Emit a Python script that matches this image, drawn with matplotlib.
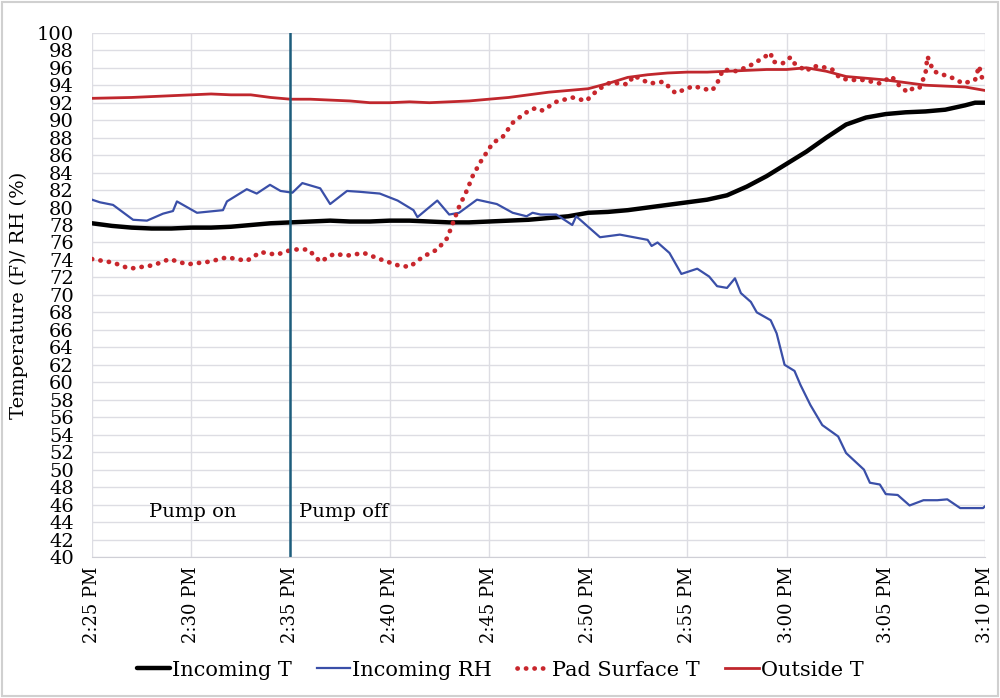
import matplotlib.pyplot as plt
from matplotlib.patches import Rectangle

plt.rcParams['font.family'] = ['DejaVu Serif']

# x values are minutes after 2:25 PM
tick_labels = ['2:25 PM', '2:30 PM', '2:35 PM', '2:40 PM', '2:45 PM',
               '2:50 PM', '2:55 PM', '3:00 PM', '3:05 PM', '3:10 PM']

in_t_min = [0, 1, 2, 3, 4, 5, 6, 7, 8, 9, 10, 11, 12, 13, 14, 15, 16, 17, 18,
            19, 20, 21, 22, 23, 24, 25, 26, 27, 28, 29, 30, 31, 32, 33, 34,
            35, 36, 37, 38, 39, 40, 41, 42, 43, 44, 44.5, 45]
in_t_val = [78.2, 77.9, 77.7, 77.6, 77.6, 77.7, 77.7, 77.8, 78.0, 78.2, 78.3,
            78.4, 78.5, 78.4, 78.4, 78.5, 78.5, 78.4, 78.3, 78.3, 78.4, 78.5,
            78.6, 78.8, 79.0, 79.4, 79.5, 79.7, 80.0, 80.3, 80.6, 80.9, 81.4,
            82.4, 83.6, 85.0, 86.4, 88.0, 89.5, 90.3, 90.7, 90.9, 91.0, 91.2,
            91.7, 92.0, 92.0]

rh_min = [0, 0.4, 1.06, 2.07, 2.77, 3.58, 4.08, 4.28, 5.29, 6.6, 6.8, 7.8,
          8.3, 8.97, 9.5, 10.1, 10.6, 11.5, 12.0, 12.85, 13.5, 14.5, 15.4,
          16.2, 16.4, 17.4, 18.0, 18.5, 19.4, 20.4, 21.2, 21.9, 22.2, 22.6,
          23.4, 24.2, 24.4, 25.6, 26.6, 28.0, 28.2, 28.5, 29.1, 29.7, 30.5,
          31.1, 31.5, 32.0, 32.4, 32.7, 33.2, 33.5, 34.2, 34.5, 34.9, 35.4,
          35.7, 36.2, 36.8, 37.6, 38.0, 38.9, 39.2, 39.7, 40.0, 40.6, 41.2,
          41.9, 42.6, 43.1, 43.75, 44.9, 45]
rh_val = [80.9, 80.6, 80.3, 78.6, 78.5, 79.3, 79.6, 80.7, 79.4, 79.7, 80.7,
          82.1, 81.6, 82.6, 81.9, 81.7, 82.8, 82.2, 80.4, 81.9, 81.8, 81.6,
          80.8, 79.7, 78.9, 80.8, 79.2, 79.4, 80.9, 80.4, 79.4, 79.0, 79.4,
          79.2, 79.2, 78.0, 79.0, 76.6, 76.9, 76.3, 75.6, 76.0, 74.8, 72.4,
          73.0, 72.1, 71.0, 70.8, 71.9, 70.2, 69.2, 68.0, 67.1, 65.6, 62.0,
          61.3, 59.7, 57.4, 55.1, 53.8, 51.9, 50.0, 48.5, 48.3, 47.2, 47.1,
          45.9, 46.5, 46.5, 46.6, 45.6, 45.6, 45.8]

pad_min = [0, 1.06, 1.9, 3.1, 3.9, 4.8, 5.9, 6.8, 7.8, 8.5, 9.3, 10.1, 10.9,
           11.5, 12.2, 12.85, 13.7, 14.5, 15.4, 16.0, 16.7, 17.4, 17.9, 18.2,
           18.5, 18.9, 19.2, 19.6, 20.2, 20.7, 21.2, 21.7, 22.1, 22.4, 22.7,
           23.4, 24.2, 24.9, 25.5, 26.1, 27.0, 27.3, 28.1, 28.8, 29.4, 30.3,
           31.0, 31.25, 31.5, 31.8, 32.5, 33.2, 33.8, 34.2, 34.3, 34.8, 35.2,
           35.4, 36.0, 36.3, 36.8, 37.3, 37.7, 38.2, 38.9, 39.7, 40.3, 40.7,
           41.1, 41.4, 41.7, 42.0, 42.1, 42.4, 42.9, 43.4, 43.9, 44.5, 44.7,
           44.9]
pad_val = [74.1, 73.7, 73.0, 73.4, 74.1, 73.5, 73.8, 74.3, 73.9, 74.9, 74.6,
           75.2, 75.2, 73.8, 74.7, 74.5, 74.8, 74.1, 73.4, 73.2, 74.4, 75.2,
           76.5, 78.3, 80.1, 82.0, 83.7, 85.3, 87.4, 88.1, 89.7, 90.6, 91.2,
           91.4, 91.1, 92.1, 92.6, 92.2, 93.5, 94.3, 94.1, 95.1, 94.2, 94.4,
           93.1, 93.9, 93.5, 93.4, 94.2, 95.8, 95.6, 96.3, 97.1, 97.7, 96.7,
           96.5, 97.2, 96.5, 95.6, 96.2, 96.1, 95.8, 94.8, 94.6, 94.6, 94.2,
           95.0, 93.9, 93.2, 93.7, 93.7, 95.3, 97.3, 95.6, 95.2, 94.8, 94.2,
           94.6, 96.2, 94.4]

out_min = [0, 2, 4, 5, 6, 7, 8, 9, 10, 11, 12, 13, 14, 15, 16, 17, 18, 19,
           20, 21, 22, 23, 24, 25, 26, 27, 28, 29, 30, 31, 32, 33, 34, 35, 36,
           37, 38, 39, 40, 41, 42, 43, 44, 45]
out_val = [92.5, 92.6, 92.8, 92.9, 93.0, 92.9, 92.9, 92.6, 92.4, 92.4, 92.3,
           92.2, 92.0, 92.0, 92.1, 92.0, 92.1, 92.2, 92.4, 92.6, 92.9, 93.2,
           93.4, 93.6, 94.2, 94.9, 95.2, 95.4, 95.5, 95.5, 95.6, 95.7, 95.8,
           95.8, 96.0, 95.6, 95.0, 94.8, 94.6, 94.3, 94.0, 93.9, 93.8, 93.4]

fig = plt.figure(figsize=(10, 6.98), dpi=100)
ax = fig.add_axes([0.092, 0.202, 0.893, 0.751])

ax.plot(in_t_min, in_t_val, color='black', lw=3.2, label='Incoming T',
        solid_capstyle='round')
ax.plot(rh_min, rh_val, color='#3a4fa8', lw=1.6, label='Incoming RH')
ax.plot(pad_min, pad_val, color='#c8262c', lw=3.4, linestyle=(0, (0.05, 1.75)),
        dash_capstyle='round', label='Pad Surface T')
ax.plot(out_min, out_val, color='#c0272d', lw=2, label='Outside T')

ax.axvline(10, color='#1d5d7c', lw=1.8)
ax.text(2.85, 45.1, 'Pump on', fontsize=14, va='center')
ax.text(10.45, 45.1, 'Pump off', fontsize=14, va='center')

ax.set_xlim(0, 45)
ax.set_ylim(40, 100)
ax.set_xticks(range(0, 46, 5))
ax.set_xticklabels(tick_labels, rotation=90, fontsize=13)
ax.set_yticks(range(40, 101, 2))
ax.tick_params(axis='y', labelsize=14, length=0, pad=13)
ax.tick_params(axis='x', length=0, pad=7)
ax.grid(True, color='#dddde3', lw=1)
ax.set_axisbelow(True)
for s in ax.spines.values():
    s.set_visible(False)
ax.spines['bottom'].set_visible(True)
ax.spines['bottom'].set_color('#cfcfd6')
ax.set_ylabel('Temperature (F)/ RH (%)', fontsize=14, labelpad=6)

fig.legend(loc='center', bbox_to_anchor=(0.5, 0.04), ncol=4, frameon=False,
           fontsize=15, handlelength=1.6, handletextpad=0.1, columnspacing=1.2)

fig.patches.append(Rectangle((0.002, 0.003), 0.996, 0.994, transform=fig.transFigure,
                             fill=False, edgecolor='#d0d0d0', lw=1.5))

plt.savefig('out.png', dpi=100)
